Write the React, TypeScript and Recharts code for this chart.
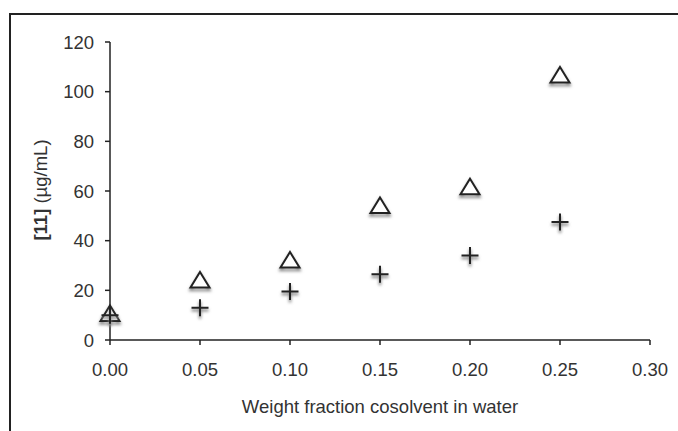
import { ScatterChart, Scatter, XAxis, YAxis, Label } from "recharts"

const fractions = [0, 0.05, 0.1, 0.15, 0.2, 0.25]
const triangleValues = [10.5, 24, 32, 54, 61.5, 106.5]
const plusValues = [10, 13, 19.5, 26.5, 34, 47.5]
const xTicks = [0, 0.05, 0.1, 0.15, 0.2, 0.25, 0.3]
const yTicks = [0, 20, 40, 60, 80, 100, 120]

const triangleData = fractions.map((x, i) => ({ x, y: triangleValues[i] }))
const plusData = fractions.map((x, i) => ({ x, y: plusValues[i] }))

const FONT = "'Liberation Sans', Arial, sans-serif"
const INK = "#222"
const FS = 18.5

function TriangleMark(props: any) {
  const { cx, cy } = props
  if (cx == null || cy == null) return null
  const d = `M${cx},${cy - 8.5} L${cx + 9.5},${cy + 7} L${cx - 9.5},${cy + 7} Z`
  return (
    <g>
      <path d={d} transform="translate(0,2.5)" fill="none" stroke="#888" strokeWidth={2.5} filter="url(#markShadow)" />
      <path d={d} fill="#fff" stroke={INK} strokeWidth={2} strokeLinejoin="miter" />
    </g>
  )
}

function PlusMark(props: any) {
  const { cx, cy } = props
  if (cx == null || cy == null) return null
  const d = `M${cx - 8.5},${cy} H${cx + 8.5} M${cx},${cy - 8.5} V${cy + 8.5}`
  return (
    <g>
      <path d={d} transform="translate(0,2.5)" stroke="#888" strokeWidth={2.5} filter="url(#markShadow)" />
      <path d={d} stroke={INK} strokeWidth={2} />
    </g>
  )
}

function YTitle() {
  return (
    <text
      x={40}
      y={190}
      transform="rotate(-90, 40, 190)"
      textAnchor="middle"
      dominantBaseline="central"
      fontFamily={FONT}
      fontSize={FS}
      fill="#333"
    >
      <tspan fontWeight="bold">[11]</tspan>
      <tspan> (µg/mL)</tspan>
    </text>
  )
}

export default function App() {
  return (
    <div style={{ position: "absolute", left: 0, top: 0, width: 678, height: 431, background: "#fff", overflow: "hidden" }}>
      <svg width={0} height={0} style={{ position: "absolute" }}>
        <defs>
          <filter id="markShadow" x="-50%" y="-50%" width="200%" height="200%">
            <feGaussianBlur stdDeviation="1.5" />
          </filter>
        </defs>
      </svg>
      <div
        style={{
          position: "absolute",
          left: 9,
          top: 13,
          width: 700,
          height: 450,
          borderLeft: `2.5px solid ${INK}`,
          borderTop: `2.5px solid ${INK}`,
        }}
      />
      <div style={{ position: "absolute", left: 0, top: 0 }}>
        <ScatterChart width={678} height={431} margin={{ top: 42, right: 28, bottom: 11, left: 0 }}>
          <XAxis
            type="number"
            dataKey="x"
            domain={[0, 0.3]}
            ticks={xTicks}
            tickFormatter={(v: number) => v.toFixed(2)}
            height={80}
            tickSize={5}
            tickMargin={18}
            axisLine={{ stroke: INK, strokeWidth: 1.5 }}
            tickLine={{ stroke: INK, strokeWidth: 1.5 }}
            tick={{ fill: "#333", fontSize: FS, fontFamily: FONT }}
          >
            <Label
              value="Weight fraction cosolvent in water"
              position="insideBottom"
              offset={7}
              fill="#333"
              fontSize={FS}
              fontFamily={FONT}
            />
          </XAxis>
          <YAxis
            type="number"
            dataKey="y"
            domain={[0, 120]}
            ticks={yTicks}
            width={110}
            tickSize={5}
            tickMargin={11}
            axisLine={{ stroke: INK, strokeWidth: 1.5 }}
            tickLine={{ stroke: INK, strokeWidth: 1.5 }}
            tick={{ fill: "#333", fontSize: FS, fontFamily: FONT }}
          >
            <Label content={<YTitle />} />
          </YAxis>
          <Scatter data={triangleData} shape={<TriangleMark />} isAnimationActive={false} />
          <Scatter data={plusData} shape={<PlusMark />} isAnimationActive={false} />
        </ScatterChart>
      </div>
    </div>
  )
}
